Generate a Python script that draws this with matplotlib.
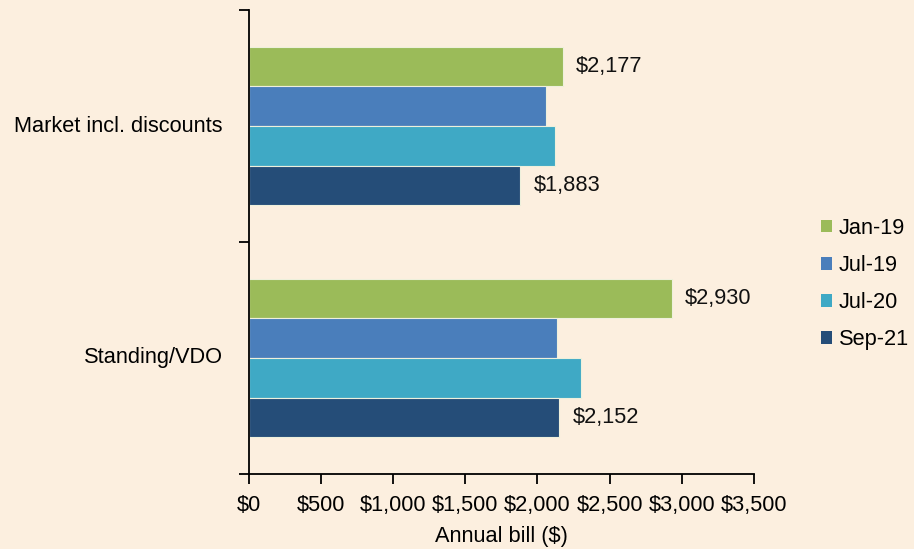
import matplotlib.pyplot as plt
from matplotlib.patches import Patch

categories = ['Market incl. discounts', 'Standing/VDO']
periods = ['Jan-19', 'Jul-19', 'Jul-20', 'Sep-21']
bills = {
    'Jan-19': [2177, 2930],
    'Jul-19': [2060, 2135],
    'Jul-20': [2120, 2300],
    'Sep-21': [1883, 2152],
}
labelled = ['Jan-19', 'Sep-21']  # only these bars get a value label
colors = ['#9bbb59', '#4a7ebb', '#3fa9c5', '#254d78']
bg = '#fcefdf'

plt.rcParams['font.family'] = ['Liberation Sans', 'DejaVu Sans']
fs = 15.7

fig = plt.figure(figsize=(9.14, 5.49), dpi=100, facecolor=bg)
ax = fig.add_axes([248.5 / 914, 75 / 549, (754 - 248.5) / 914, 464 / 549])
ax.set_facecolor(bg)

h = 0.171
for i, p in enumerate(periods):
    ys = [c + 0.5 + (i - 1.5) * h for c in range(len(categories))]
    ax.barh(ys, bills[p], height=h, color=colors[i], edgecolor='#eef0dc', linewidth=0.8, label=p)
    if p in labelled:
        for y, v in zip(ys, bills[p]):
            ax.text(v + 90, y, f'${v:,}', va='center', ha='left', fontsize=fs, color='#111111')

ax.set_xlim(0, 3500)
ax.set_ylim(2, 0)
ax.set_xticks(range(0, 3501, 500))
ax.set_xticklabels([f'${v:,}' for v in range(0, 3501, 500)], fontsize=fs)
ax.set_yticks([0, 1, 2])
ax.set_yticklabels([])
for c, name in enumerate(categories):
    ax.text(-0.051, c + 0.5, name, transform=ax.get_yaxis_transform(), ha='right', va='center', fontsize=fs)

for s in ['top', 'right']:
    ax.spines[s].set_visible(False)
for s in ['left', 'bottom']:
    ax.spines[s].set_linewidth(1.3)
ax.tick_params(axis='both', length=7, width=1.3, direction='out')
ax.tick_params(axis='x', pad=8)
ax.set_xlabel('Annual bill ($)', fontsize=fs, labelpad=7)

handles = [Patch(facecolor=c, edgecolor='none') for c in colors]
fig.legend(handles, periods, loc='center left', bbox_to_anchor=(821 / 914, 1 - 284 / 549),
           frameon=False, fontsize=fs, handlelength=0.52, handleheight=0.52,
           handletextpad=0.3, labelspacing=0.74, borderpad=0, borderaxespad=0)

fig.savefig('out.png', dpi=100, facecolor=bg)
